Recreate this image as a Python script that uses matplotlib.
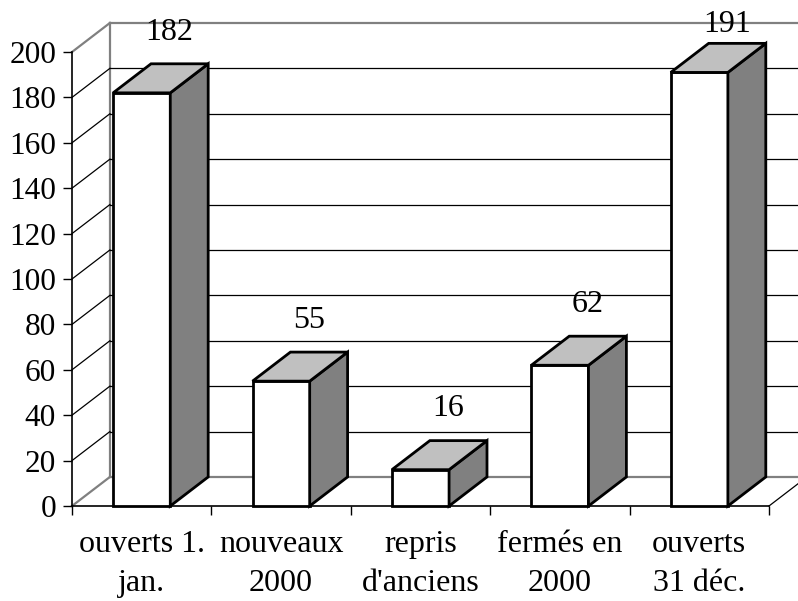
import matplotlib.pyplot as plt
from matplotlib.patches import Polygon

plt.rcParams['font.family'] = ['Liberation Serif', 'DejaVu Serif']

categories = ["ouverts 1.\njan.", "nouveaux\n2000", "repris\nd'anciens",
              "fermés en\n2000", "ouverts\n31 déc."]
values = [182, 55, 16, 62, 191]
yticks = list(range(0, 201, 20))

# fake 3d depth, in data units (x: categories, y: values)
dx = 0.272
dy = 12.8
bar_w = 0.41

fig = plt.figure(figsize=(7.98, 6.01), dpi=100)
ax = fig.add_axes([72 / 798, 95 / 601, 697 / 798, 454 / 601])
ax.set_xlim(0, len(values))
ax.set_ylim(0, 200)

n = len(values)

# walls and floor
wall_c = "#808080"
ax.plot([dx, dx], [dy, 200 + dy], color=wall_c, lw=1.6, clip_on=False, zorder=1)
for v in yticks:
    edge = v in (0, 200)
    c = wall_c if edge else "black"
    lw = 1.6 if edge else 0.9
    ax.plot([0, dx], [v, v + dy], color=c, lw=lw, clip_on=False, zorder=1)
    ax.plot([dx, n + dx], [v + dy, v + dy], color=c, lw=lw, clip_on=False, zorder=1)
ax.plot([n, n + dx], [0, dy], color="black", lw=0.9, clip_on=False, zorder=1)

# bars
for i, v in enumerate(values):
    x0 = i + 0.5 - bar_w / 2
    x1 = i + 0.5 + bar_w / 2
    front = Polygon([(x0, 0), (x1, 0), (x1, v), (x0, v)], closed=True,
                    facecolor="white", edgecolor="black", lw=2, zorder=3,
                    clip_on=False, joinstyle="miter")
    side = Polygon([(x1, 0), (x1 + dx, dy), (x1 + dx, v + dy), (x1, v)], closed=True,
                   facecolor="#808080", edgecolor="black", lw=2, zorder=3,
                   clip_on=False, joinstyle="miter")
    top = Polygon([(x0, v), (x0 + dx, v + dy), (x1 + dx, v + dy), (x1, v)], closed=True,
                  facecolor="#C0C0C0", edgecolor="black", lw=2, zorder=3,
                  clip_on=False, joinstyle="miter")
    for p in (front, side, top):
        ax.add_patch(p)
    ly = min(v + dy + 14, 212)
    ax.text(i + 0.7, ly, str(v), ha="center", va="center", fontsize=23, zorder=4)

# axes
for s in ("top", "right"):
    ax.spines[s].set_visible(False)
ax.spines["left"].set_color("black")
ax.spines["bottom"].set_color("black")
ax.spines["left"].set_linewidth(1.2)
ax.spines["bottom"].set_linewidth(1.2)
ax.spines["left"].set_zorder(2)
ax.spines["bottom"].set_zorder(2)

ax.set_yticks(yticks)
ax.tick_params(axis="y", direction="out", length=6.5, width=1, labelsize=22.5, pad=5)
ax.set_xticks(range(n + 1))
ax.set_xticklabels([])
ax.set_xticks([i + 0.5 for i in range(n)], minor=True)
ax.set_xticklabels(categories, minor=True, fontsize=23, linespacing=1.48)
ax.tick_params(axis="x", which="minor", length=0, pad=17)
ax.tick_params(axis="x", which="major", direction="out", length=6.5, width=1)

fig.savefig("out.png", dpi=100)
